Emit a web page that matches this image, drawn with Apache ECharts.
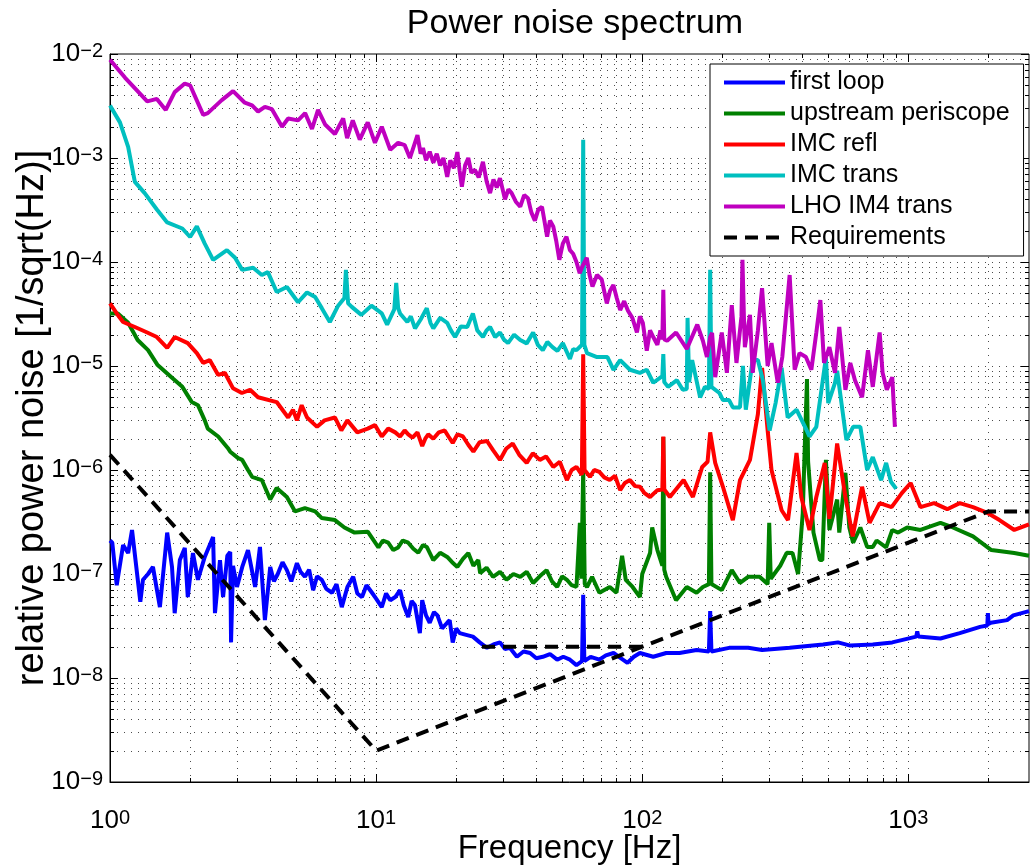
<!DOCTYPE html>
<html>
<head>
<meta charset="utf-8">
<script src="https://cdn.jsdelivr.net/npm/echarts@6/dist/echarts.min.js"></script>
<style>
  html, body { margin: 0; padding: 0; background: #fff; }
  #chart { width: 1030px; height: 866px; }
</style>
</head>
<body>
<div id="chart"></div>
<script>
// Axis ranges and decade tick labels (exponents of 10)
const X_MIN = 1, X_MAX = 2840;
const Y_MIN = 1e-9, Y_MAX = 1e-2;
const xTickExps = [0, 1, 2, 3];
const yTickExps = [-9, -8, -7, -6, -5, -4, -3, -2];

// first loop
const loopFreq = [1.0, 1.02, 1.06, 1.12, 1.17, 1.21, 1.30, 1.33, 1.39, 1.45, 1.54, 1.64, 1.71, 1.75, 1.83, 1.91, 1.96, 2.05, 2.14, 2.27, 2.44, 2.48, 2.59, 2.66, 2.76, 2.83, 2.85, 2.90, 3.0, 3.14, 3.3, 3.51, 3.66, 3.82, 4.0, 4.13, 4.27, 4.45, 4.62, 4.8, 5.04, 5.2, 5.4, 5.6, 5.8, 6.0, 6.25, 6.5, 6.83, 7.1, 7.43, 7.8, 8.2, 8.5, 8.85, 9.2, 9.65, 10.0, 10.5, 10.9, 11.3, 11.8, 12.3, 12.7, 13.2, 13.6, 14.0, 14.6, 14.9, 15.4, 15.9, 16.5, 17.0, 17.7, 18.5, 18.9, 19.4, 20.0, 20.6, 21.8, 23.1, 24.5, 26.1, 27.6, 29.2, 30.5, 31.8, 33.8, 35.8, 37.9, 40, 42.3, 45, 47.9, 50.5, 53.5, 56.6, 59.4, 60, 60.6, 64, 69, 73, 78, 83, 88, 93, 98, 110, 123, 138, 160, 178, 180, 182, 212, 250, 282, 358, 478, 544, 605, 735, 870, 1070, 1080, 1090, 1320, 1560, 1860, 1980, 1990, 2000, 2040, 2350, 2480, 2840];
const loopVals = [2.1e-7, 2.0e-7, 7.8e-8, 1.9e-7, 1.59e-7, 2.65e-7, 5.4e-8, 8.8e-8, 1.0e-7, 1.17e-7, 4.8e-8, 2.5e-7, 1.17e-7, 4.2e-8, 1.36e-7, 1.78e-7, 6.0e-8, 1.59e-7, 8.8e-8, 1.46e-7, 2.27e-7, 4.2e-8, 1.36e-7, 6.0e-8, 1.5e-7, 1.63e-7, 2.2e-8, 1.2e-7, 7.5e-8, 1.17e-7, 1.7e-7, 7.5e-8, 1.82e-7, 3.6e-8, 1.17e-7, 8.5e-8, 1.0e-7, 1.3e-7, 1.09e-7, 8.5e-8, 1.27e-7, 1.05e-7, 9.4e-8, 1.1e-7, 7.0e-8, 9.5e-8, 8.8e-8, 7.2e-8, 6.6e-8, 8.0e-8, 4.8e-8, 7.5e-8, 9.4e-8, 6.5e-8, 6.0e-8, 7.8e-8, 6.6e-8, 5.8e-8, 4.8e-8, 6.5e-8, 5.6e-8, 6.0e-8, 7.0e-8, 5.0e-8, 3.85e-8, 5.5e-8, 5.0e-8, 2.7e-8, 5.6e-8, 4.0e-8, 3.4e-8, 4.3e-8, 4.0e-8, 3.0e-8, 3.4e-8, 3.6e-8, 2.2e-8, 3.0e-8, 2.7e-8, 2.6e-8, 2.5e-8, 2.2e-8, 1.95e-8, 2.1e-8, 2.2e-8, 1.9e-8, 1.95e-8, 1.6e-8, 1.8e-8, 1.74e-8, 1.55e-8, 1.6e-8, 1.7e-8, 1.5e-8, 1.6e-8, 1.5e-8, 1.33e-8, 1.45e-8, 6.3e-8, 1.45e-8, 1.6e-8, 1.5e-8, 1.65e-8, 1.74e-8, 1.55e-8, 1.4e-8, 1.6e-8, 1.74e-8, 1.6e-8, 1.74e-8, 1.74e-8, 1.86e-8, 1.8e-8, 4.4e-8, 1.8e-8, 1.95e-8, 1.95e-8, 1.86e-8, 1.95e-8, 2.1e-8, 2.2e-8, 2.05e-8, 2.1e-8, 2.2e-8, 2.5e-8, 2.8e-8, 2.5e-8, 2.4e-8, 2.7e-8, 3.1e-8, 3.2e-8, 4.2e-8, 3.3e-8, 3.4e-8, 3.6e-8, 4.0e-8, 4.4e-8];

// upstream periscope
const periFreq = [1.0, 1.07, 1.17, 1.27, 1.39, 1.51, 1.71, 1.87, 2.03, 2.14, 2.27, 2.33, 2.55, 2.77, 2.83, 3.03, 3.14, 3.3, 3.42, 3.72, 4.0, 4.23, 4.62, 4.96, 5.4, 5.9, 6.25, 7.0, 7.6, 8.3, 9.3, 10.2, 10.6, 11.1, 11.6, 12.1, 12.6, 13.2, 13.8, 14.4, 15.0, 15.5, 16.4, 17.4, 18.5, 19.3, 20.2, 21.2, 22.2, 23.2, 24.2, 24.6, 26, 27.5, 29.2, 30.9, 32.8, 34.8, 36.8, 38.9, 41.2, 43.7, 45.8, 47.9, 50, 52.1, 54.3, 56.6, 58.3, 59.0, 60, 60.8, 62, 64.8, 69, 75.5, 80, 84, 86.7, 92, 98, 100, 107, 109, 114, 119, 120, 121, 123, 134, 147, 160, 169, 178, 180, 182, 199, 217, 233, 250, 276, 296, 300, 304, 330, 349, 367, 385, 401, 408, 416, 420, 440, 465, 475, 490, 505, 540, 550, 580, 600, 620, 660, 700, 735, 760, 825, 870, 915, 990, 1110, 1320, 1470, 1750, 2050, 2500, 2840];
const periVals = [3.2e-5, 3.2e-5, 2.6e-5, 1.78e-5, 1.42e-5, 1.02e-5, 7.7e-6, 6.3e-6, 4.5e-6, 4.2e-6, 3.0e-6, 2.5e-6, 2.1e-6, 1.63e-6, 1.5e-6, 1.3e-6, 1.25e-6, 1.0e-6, 8.6e-7, 8.0e-7, 5.2e-7, 6.7e-7, 5.5e-7, 4.0e-7, 4.3e-7, 4.0e-7, 3.45e-7, 3.3e-7, 2.8e-7, 2.5e-7, 2.55e-7, 1.8e-7, 2.1e-7, 2.0e-7, 1.7e-7, 1.8e-7, 2.1e-7, 2.0e-7, 1.75e-7, 1.6e-7, 1.9e-7, 1.82e-7, 1.36e-7, 1.6e-7, 1.46e-7, 1.3e-7, 1.17e-7, 1.4e-7, 1.59e-7, 1.2e-7, 1.36e-7, 1.02e-7, 1.15e-7, 9.4e-8, 1.05e-7, 8.8e-8, 1.0e-7, 9.4e-8, 1.05e-7, 8.2e-8, 9.5e-8, 1.09e-7, 8.5e-8, 7.5e-8, 9.5e-8, 8.8e-8, 7.8e-8, 7.5e-8, 3.1e-7, 9.0e-8, 1.0e-6, 8.0e-8, 7.5e-8, 9.4e-8, 6.6e-8, 7.5e-8, 6.6e-8, 1.5e-7, 8.8e-8, 7.5e-8, 6.0e-8, 1.0e-7, 1.59e-7, 2.8e-7, 1.7e-7, 1.2e-7, 2.08e-6, 1.1e-7, 9.4e-8, 5.6e-8, 7.5e-8, 6.6e-8, 7.5e-8, 8.0e-8, 9.5e-7, 8.0e-8, 7.0e-8, 1.09e-7, 8.2e-8, 9.4e-8, 9.4e-8, 8.0e-8, 3.1e-7, 9.0e-8, 1.2e-7, 1.6e-7, 1.59e-7, 1.0e-7, 3.85e-7, 1.66e-6, 7.5e-6, 1.2e-6, 2.5e-7, 1.36e-7, 1.36e-7, 1.25e-6, 2.65e-7, 5.2e-7, 2.5e-7, 9.4e-7, 2.8e-7, 2.0e-7, 2.8e-7, 1.82e-7, 1.82e-7, 2.1e-7, 1.8e-7, 2.65e-7, 2.5e-7, 2.8e-7, 2.65e-7, 3.1e-7, 2.8e-7, 2.3e-7, 1.7e-7, 1.59e-7, 1.5e-7];

// IMC refl
const reflFreq = [1.0, 1.06, 1.12, 1.24, 1.38, 1.5, 1.64, 1.75, 1.96, 2.12, 2.24, 2.37, 2.55, 2.7, 2.9, 3.13, 3.36, 3.6, 4.23, 4.67, 4.87, 5.04, 5.25, 5.5, 6.0, 6.4, 7.0, 7.4, 7.8, 8.5, 9.3, 9.9, 10.5, 11.1, 11.8, 12.3, 12.8, 13.2, 13.7, 14.3, 14.9, 15.3, 15.7, 16.4, 17.2, 18.1, 18.7, 19.4, 20.2, 21.2, 22.2, 23.2, 24.5, 26.1, 27.5, 29.2, 30.8, 32.6, 34.5, 36.8, 38.8, 41.2, 43.5, 46.3, 49, 52.1, 54.3, 56.6, 59.3, 60, 60.7, 63.6, 66, 69, 72, 75.5, 79, 82.6, 86, 89.9, 94, 98, 102, 107, 114, 119, 120, 121, 127, 143, 155, 168, 176, 180, 188, 201, 219, 233, 254, 272, 282, 296, 306, 334, 353, 380, 396, 425, 451, 485, 505, 540, 580, 618, 670, 715, 780, 865, 945, 1020, 1110, 1250, 1400, 1560, 1750, 1970, 2200, 2500, 2840];
const reflVals = [4.0e-5, 3.2e-5, 2.65e-5, 2.37e-5, 2.1e-5, 1.9e-5, 1.49e-5, 1.9e-5, 1.66e-5, 1.33e-5, 1.07e-5, 1.14e-5, 8.2e-6, 8.6e-6, 6.1e-6, 5.5e-6, 5.9e-6, 5.0e-6, 4.5e-6, 3.2e-6, 3.8e-6, 3.0e-6, 4.2e-6, 3.2e-6, 2.6e-6, 3.0e-6, 3.2e-6, 2.4e-6, 3.0e-6, 2.3e-6, 2.5e-6, 2.7e-6, 2.1e-6, 2.5e-6, 2.3e-6, 2.1e-6, 2.4e-6, 2.2e-6, 2.05e-6, 2.3e-6, 1.7e-6, 2.0e-6, 2.2e-6, 2.0e-6, 2.3e-6, 2.4e-6, 2.1e-6, 1.82e-6, 2.2e-6, 2.1e-6, 1.75e-6, 1.5e-6, 1.85e-6, 1.9e-6, 1.55e-6, 1.25e-6, 1.6e-6, 1.8e-6, 1.4e-6, 1.17e-6, 1.45e-6, 1.25e-6, 1.35e-6, 1.07e-6, 1.2e-6, 8.0e-7, 1.0e-6, 1.07e-6, 9.0e-7, 1.3e-5, 1.0e-6, 8.6e-7, 1.0e-6, 9.6e-7, 8.5e-7, 8.0e-7, 8.8e-7, 6.4e-7, 7.5e-7, 8.0e-7, 7.0e-7, 6.9e-7, 6.0e-7, 5.5e-7, 6.4e-7, 6.5e-7, 2.1e-6, 6.5e-7, 5.5e-7, 8.0e-7, 5.5e-7, 1.07e-6, 1.2e-6, 2.3e-6, 1.17e-6, 6.9e-7, 3.3e-7, 8.0e-7, 1.25e-6, 3.45e-6, 9.6e-6, 2.4e-6, 1.0e-6, 4.1e-7, 3.3e-7, 1.46e-6, 5.5e-7, 2.65e-7, 5.5e-7, 1.17e-6, 3.4e-7, 1.8e-6, 5.5e-7, 2.3e-7, 6.9e-7, 3.1e-7, 4.8e-7, 4.4e-7, 6.0e-7, 7.5e-7, 4.4e-7, 4.8e-7, 4.2e-7, 4.8e-7, 4.4e-7, 3.9e-7, 3.3e-7, 2.65e-7, 3.0e-7];

// IMC trans
const transFreq = [1.0, 1.09, 1.17, 1.24, 1.35, 1.5, 1.64, 1.87, 2.0, 2.12, 2.27, 2.44, 2.75, 2.95, 3.14, 3.45, 3.72, 3.92, 4.23, 4.62, 5.09, 5.5, 5.9, 6.25, 6.7, 7.2, 7.6, 7.7, 7.85, 8.1, 8.8, 9.6, 10.5, 11.0, 11.7, 11.9, 12.1, 12.3, 13.1, 13.5, 14.0, 14.7, 15.5, 16.0, 16.4, 17.4, 18.5, 19.1, 19.8, 20.8, 22.0, 23.1, 24.0, 25.2, 26.0, 26.8, 28, 29.2, 30.2, 31.3, 33, 34.8, 36.8, 38.9, 40.5, 42.3, 44, 46.0, 48, 50.3, 53.5, 55, 56.6, 59.4, 60, 60.6, 62, 67.6, 74, 78, 82.6, 89.9, 98, 104, 110, 119, 120, 121, 125, 135, 142, 147, 148, 150, 154, 165, 172, 178, 180, 182, 195, 201, 212, 219, 233, 239, 245, 260, 272, 284, 301, 317, 334, 352, 380, 415, 425, 451, 490, 500, 530, 540, 585, 620, 660, 700, 735, 790, 825, 860, 900];
const transVals = [3.2e-3, 2.2e-3, 1.28e-3, 5.9e-4, 4.6e-4, 3.2e-4, 2.4e-4, 2.1e-4, 1.74e-4, 2.2e-4, 1.5e-4, 1.05e-4, 1.3e-4, 1.1e-4, 8.4e-5, 8.8e-5, 7.5e-5, 8.0e-5, 5.15e-5, 5.75e-5, 4.1e-5, 5.1e-5, 4.6e-5, 3.6e-5, 2.65e-5, 3.8e-5, 4.5e-5, 8.4e-5, 4.0e-5, 3.7e-5, 3.1e-5, 3.8e-5, 3.2e-5, 2.5e-5, 3.5e-5, 6.3e-5, 3.6e-5, 3.2e-5, 2.65e-5, 3.0e-5, 2.3e-5, 2.8e-5, 3.6e-5, 2.6e-5, 2.3e-5, 2.9e-5, 2.6e-5, 2.2e-5, 1.9e-5, 2.4e-5, 2.37e-5, 3.2e-5, 2.2e-5, 1.9e-5, 2.2e-5, 2.37e-5, 1.9e-5, 2.1e-5, 1.8e-5, 1.66e-5, 2.0e-5, 1.78e-5, 1.65e-5, 2.1e-5, 1.6e-5, 1.42e-5, 1.7e-5, 1.52e-5, 1.4e-5, 1.66e-5, 1.17e-5, 1.45e-5, 1.42e-5, 1.6e-5, 1.5e-3, 1.6e-5, 1.33e-5, 1.22e-5, 1.22e-5, 9.2e-6, 1.14e-5, 9.2e-6, 8.6e-6, 9.2e-6, 6.9e-6, 8.0e-6, 1.3e-5, 7.0e-6, 6.3e-6, 7.3e-6, 5.9e-6, 6.0e-6, 2.9e-5, 7.0e-6, 1.14e-5, 5.0e-6, 6.3e-6, 6.0e-6, 8.4e-5, 6.3e-6, 5.5e-6, 4.7e-6, 4.7e-6, 4.0e-6, 4.0e-6, 1.0e-5, 3.8e-6, 1.14e-5, 1.14e-5, 7.3e-6, 2.4e-6, 4.4e-6, 9.6e-6, 3.2e-6, 3.8e-6, 2.4e-6, 2.1e-6, 2.6e-6, 1.2e-5, 4.4e-6, 6.9e-6, 9.0e-6, 1.94e-6, 2.6e-6, 2.6e-6, 1.0e-6, 1.33e-6, 8.0e-7, 1.17e-6, 7.7e-7, 6.6e-7];

// LHO IM4 trans
const lhoFreq = [1.0, 1.14, 1.38, 1.5, 1.62, 1.75, 1.91, 2.0, 2.24, 2.33, 2.63, 2.9, 3.21, 3.42, 3.6, 3.82, 4.06, 4.43, 4.67, 5.09, 5.41, 5.74, 6.05, 6.43, 7.0, 7.52, 7.78, 8.17, 8.68, 9.3, 9.9, 10.5, 11.3, 12.1, 12.8, 13.4, 14.3, 14.7, 15.0, 15.4, 15.9, 16.4, 16.9, 17.4, 17.9, 18.5, 19.0, 19.6, 20.2, 20.6, 21.0, 21.6, 22.2, 22.8, 23.5, 24.3, 25.2, 26.0, 26.8, 27.6, 28.4, 29.2, 30.5, 31.4, 32.3, 33.5, 34.8, 36.0, 37.2, 38.3, 39.5, 40.7, 42, 43.0, 43.9, 45.0, 46.3, 47.5, 48.8, 50.3, 51.9, 53.5, 55, 56.6, 58.2, 59.5, 61.9, 63.4, 65, 67.6, 70.4, 72, 73.6, 75.7, 77.9, 80.2, 82.6, 85.5, 88.4, 91.8, 95.5, 98, 100.5, 104, 107, 110, 114, 117, 119, 120, 121, 124, 134, 147, 161, 169, 175, 180, 183, 188, 199, 208, 217, 226, 236, 238, 241, 243, 254, 260, 272, 282, 296, 306, 323, 336, 358, 374, 390, 412, 432, 451, 467, 482, 505, 530, 550, 580, 605, 630, 670, 705, 735, 780, 800, 830, 870, 890];
const lhoVals = [8.8e-3, 5.9e-3, 3.5e-3, 3.7e-3, 2.9e-3, 4.3e-3, 5.2e-3, 5.0e-3, 2.6e-3, 2.7e-3, 3.6e-3, 4.4e-3, 3.4e-3, 3.2e-3, 2.8e-3, 3.1e-3, 2.95e-3, 2.0e-3, 2.4e-3, 2.3e-3, 2.7e-3, 1.9e-3, 2.9e-3, 2.1e-3, 1.7e-3, 2.4e-3, 1.55e-3, 2.3e-3, 1.5e-3, 2.2e-3, 1.4e-3, 2.0e-3, 1.2e-3, 1.4e-3, 1.33e-3, 1.0e-3, 1.66e-3, 1.1e-3, 1.25e-3, 9.5e-4, 1.15e-3, 9.0e-4, 1.1e-3, 8.5e-4, 1.0e-3, 6.6e-4, 9.5e-4, 8.0e-4, 1.14e-3, 7.5e-4, 5.3e-4, 8.5e-4, 1.0e-3, 7.2e-4, 7.7e-4, 6.5e-4, 9.2e-4, 6.0e-4, 4.6e-4, 6.2e-4, 5.2e-4, 6.4e-4, 4.0e-4, 5.0e-4, 4.6e-4, 3.8e-4, 3.4e-4, 4.4e-4, 4.1e-4, 3.0e-4, 2.5e-4, 3.2e-4, 3.4e-4, 2.4e-4, 1.75e-4, 2.5e-4, 2.2e-4, 1.6e-4, 1.05e-4, 1.5e-4, 1.75e-4, 1.3e-4, 1.2e-4, 1.0e-4, 7.8e-5, 9.0e-5, 1.1e-4, 7.5e-5, 5.8e-5, 7.5e-5, 6.8e-5, 5.2e-5, 4.0e-5, 5.3e-5, 6.0e-5, 4.5e-5, 3.45e-5, 4.2e-5, 3.4e-5, 2.9e-5, 2.1e-5, 3.0e-5, 2.6e-5, 1.4e-5, 2.2e-5, 1.9e-5, 1.6e-5, 2.2e-5, 1.8e-5, 5.4e-5, 1.8e-5, 1.75e-5, 2.1e-5, 1.46e-5, 2.5e-5, 1.75e-5, 1.22e-5, 1.9e-5, 2.08e-5, 7.8e-6, 2.1e-5, 8.6e-6, 3.85e-5, 1.07e-5, 3.0e-5, 1.05e-4, 3.0e-5, 1.52e-5, 3.1e-5, 8.6e-6, 2.2e-5, 5.6e-5, 1.0e-5, 1.66e-5, 6.9e-6, 1.22e-5, 7.5e-5, 9.2e-6, 1.33e-5, 1.22e-5, 9.2e-6, 2.1e-5, 4.3e-5, 1.07e-5, 1.52e-5, 8.6e-6, 2.37e-5, 5.9e-6, 1.07e-5, 7.3e-6, 5.0e-6, 1.42e-5, 6.3e-6, 2.1e-5, 8.6e-6, 5.9e-6, 7.8e-6, 2.6e-6];

// Requirements: main curve and the flat 25-100 Hz segment
const reqFreq = [1, 10, 2000, 2840];
const reqVals = [1.4e-6, 2e-9, 4e-7, 4e-7];
const reqFlatFreq = [25, 100];
const reqFlatVals = [2e-8, 2e-8];

const FONT = "'Liberation Sans', Arial, Helvetica, sans-serif";

function pairs(xs, ys) { return xs.map((x, i) => [x, ys[i]]); }

function isDecade(v) {
  const l = Math.log10(v);
  return Math.abs(l - Math.round(l)) < 1e-9;
}

// "10" with a raised exponent
function powLabel(exps) {
  return function (v) {
    if (!isDecade(v)) return '';
    const e = Math.round(Math.log10(v));
    if (exps.indexOf(e) < 0) return '';
    return '{b|10}{e|' + (e < 0 ? '\u2212' + (-e) : String(e)) + '}';
  };
}

const labelRich = {
  b: { fontSize: 26, lineHeight: 26, verticalAlign: 'bottom', fontFamily: FONT, color: '#000' },
  e: { fontSize: 20, lineHeight: 20, verticalAlign: 'top', padding: [0, 0, 14, 0], fontFamily: FONT, color: '#000' }
};

// grid lines and ticks at 1..9 x each decade
const xGrid = [];
for (let d = 0; d <= 3; d++) for (let m = 1; m <= 9; m++) { const v = m * Math.pow(10, d); if (v <= X_MAX) xGrid.push(v); }
const yGrid = [];
for (let d = -9; d <= -3; d++) for (let m = 1; m <= 9; m++) yGrid.push(m * Math.pow(10, d));
yGrid.push(1e-2);

const dotStyle = { stroke: '#000', lineWidth: 1, lineDash: [1, 6], opacity: 0.7 };
const tickStyle = { stroke: '#000', lineWidth: 1 };

function xGridItem(params, api) {
  const v = api.value(0);
  const pb = api.coord([v, Y_MIN]);
  const pt = api.coord([v, Y_MAX]);
  const x = Math.round(pb[0]) + 0.5;
  const len = isDecade(v) ? 8 : 4;
  const children = [];
  if (v > X_MIN && v < X_MAX) {
    children.push({ type: 'line', shape: { x1: x, y1: pt[1], x2: x, y2: pb[1] }, style: dotStyle });
  }
  children.push({ type: 'line', shape: { x1: x, y1: pb[1], x2: x, y2: pb[1] - len }, style: tickStyle });
  children.push({ type: 'line', shape: { x1: x, y1: pt[1], x2: x, y2: pt[1] + len }, style: tickStyle });
  return { type: 'group', children };
}

function yGridItem(params, api) {
  const v = api.value(1);
  const pl = api.coord([X_MIN, v]);
  const pr = api.coord([X_MAX, v]);
  const y = Math.round(pl[1]) + 0.5;
  const len = isDecade(v) ? 8 : 4;
  const children = [];
  if (v > Y_MIN && v < Y_MAX) {
    children.push({ type: 'line', shape: { x1: pl[0], y1: y, x2: pr[0], y2: y }, style: dotStyle });
  }
  children.push({ type: 'line', shape: { x1: pl[0], y1: y, x2: pl[0] + len, y2: y }, style: tickStyle });
  children.push({ type: 'line', shape: { x1: pr[0], y1: y, x2: pr[0] - len, y2: y }, style: tickStyle });
  return { type: 'group', children };
}

function lineSeries(name, color, data, dashed) {
  return {
    name, type: 'line', data, color,
    showSymbol: false, symbol: 'none', z: 3,
    lineStyle: { color, width: 4, type: dashed ? [13, 8] : 'solid' },
    emphasis: { disabled: true }
  };
}

const names = ['first loop', 'upstream periscope', 'IMC refl', 'IMC trans', 'LHO IM4 trans', 'Requirements'];

const chart = echarts.init(document.getElementById('chart'), null, { renderer: 'canvas' });
chart.setOption({
  animation: false,
  backgroundColor: '#fff',
  textStyle: { fontFamily: FONT },
  title: {
    text: 'Power noise spectrum', left: 570, top: 2, textAlign: 'center',
    textStyle: { fontSize: 34, fontWeight: 'normal', color: '#000', fontFamily: FONT }
  },
  grid: {
    left: 110, top: 54, right: 1, bottom: 84,
    containLabel: false, outerBoundsMode: 'none',
    show: true, borderColor: '#000', borderWidth: 1, backgroundColor: 'transparent'
  },
  legend: {
    data: names, orient: 'vertical', left: 710, top: 64,
    itemWidth: 61, itemHeight: 25, itemGap: 6,
    padding: [6, 14, 6, 12],
    borderColor: '#000', borderWidth: 1, backgroundColor: '#fff',
    itemStyle: { opacity: 0 },
    lineStyle: { width: 4 },
    textStyle: { fontSize: 25, color: '#000', fontFamily: FONT },
    selectedMode: false
  },
  xAxis: {
    type: 'log', logBase: 10, min: X_MIN, max: X_MAX,
    name: 'Frequency [Hz]', nameLocation: 'middle', nameGap: 50, nameMoveOverlap: false,
    nameTextStyle: { fontSize: 33, color: '#000', fontFamily: FONT },
    axisLine: { show: true, lineStyle: { color: '#000', width: 1 } },
    axisTick: { show: false }, splitLine: { show: false }, minorTick: { show: false },
    axisLabel: { formatter: powLabel(xTickExps), rich: labelRich, margin: 26, showMinLabel: true, showMaxLabel: true }
  },
  yAxis: {
    type: 'log', logBase: 10, min: Y_MIN, max: Y_MAX,
    name: 'relative power noise [1/sqrt(Hz)]', nameLocation: 'middle', nameGap: 58, nameMoveOverlap: false,
    nameTextStyle: { fontSize: 38, color: '#000', fontFamily: FONT },
    axisLine: { show: true, lineStyle: { color: '#000', width: 1 } },
    axisTick: { show: false }, splitLine: { show: false }, minorTick: { show: false },
    axisLabel: { formatter: powLabel(yTickExps), rich: labelRich, margin: 7 }
  },
  series: [
    { type: 'custom', name: 'xgrid', silent: true, z: 1, renderItem: xGridItem, data: xGrid.map(v => [v, Y_MIN]), encode: { x: 0, y: 1 } },
    { type: 'custom', name: 'ygrid', silent: true, z: 1, renderItem: yGridItem, data: yGrid.map(v => [X_MIN, v]), encode: { x: 0, y: 1 } },
    lineSeries('first loop', '#0000ff', pairs(loopFreq, loopVals)),
    lineSeries('upstream periscope', '#008000', pairs(periFreq, periVals)),
    lineSeries('IMC refl', '#ff0000', pairs(reflFreq, reflVals)),
    lineSeries('IMC trans', '#00bfbf', pairs(transFreq, transVals)),
    lineSeries('LHO IM4 trans', '#bf00bf', pairs(lhoFreq, lhoVals)),
    lineSeries('Requirements', '#000000', pairs(reqFreq, reqVals), true),
    lineSeries('Requirements', '#000000', pairs(reqFlatFreq, reqFlatVals), true)
  ]
});
</script>
</body>
</html>
